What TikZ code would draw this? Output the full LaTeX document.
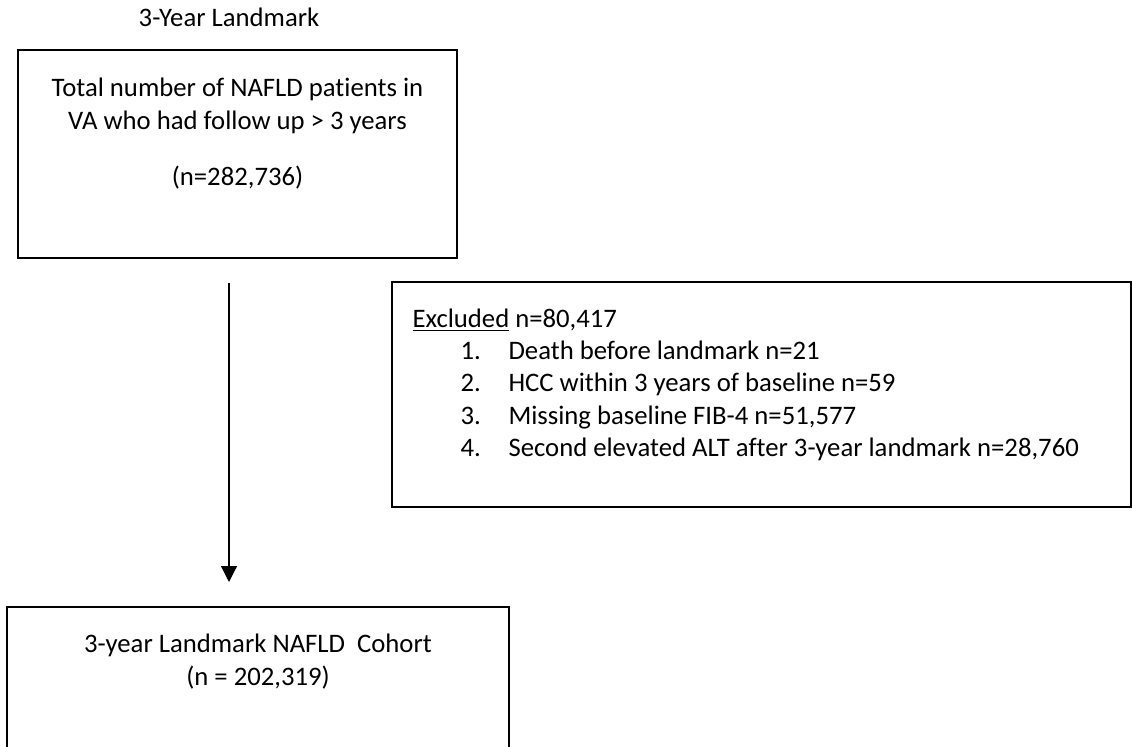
\documentclass[tikz,border=0pt]{standalone}
\usepackage{fontspec}
\setmainfont[Ligatures=NoCommon]{Carlito}
\usepackage{tikz}
\usetikzlibrary{arrows.meta, positioning}

\begin{document}
\begin{tikzpicture}[
    txt/.style={font=\fontsize{11}{13.4}\selectfont, inner sep=0pt},
    box/.style={draw, line width=0.7pt, inner sep=0pt}
]
    % Frame of the page
    \path[use as bounding box, clip] (0, 0) rectangle (16.391, 10.802);

    % Title
    \node[txt, anchor=base] (title) at (3.316, 10.416) {3-Year Landmark};

    % Starting population
    \node[box, minimum width=6.357cm, minimum height=3.012cm] (total) at (3.439, 8.572) {};
    \node[txt, anchor=base] (totalA) at (3.439, 9.398) {Total number of NAFLD patients in};
    \node[txt, anchor=base] (totalB) at (3.439, 8.920) {VA who had follow up > 3 years};
    \node[txt, anchor=base] (totalN) at (3.439, 8.123) {(n=282,736)};

    % Exclusions
    \node[box, minimum width=10.701cm, minimum height=3.258cm] (excl) at (11.027, 5.090) {};
    \node[txt, anchor=base west] (exclHead) at (5.966, 6.067) {\underline{Excluded} n=80,417};
    \node[txt, anchor=base west] (excl1) at (6.661, 5.596) {\makebox[19.8pt][l]{1.}Death before landmark n=21};
    \node[txt, anchor=base west] (excl2) at (6.661, 5.126) {\makebox[19.8pt][l]{2.}HCC within 3 years of baseline n=59};
    \node[txt, anchor=base west] (excl3) at (6.661, 4.655) {\makebox[19.8pt][l]{3.}Missing baseline FIB-4 n=51,577};
    \node[txt, anchor=base west] (excl4) at (6.661, 4.185) {\makebox[19.8pt][l]{4.}Second elevated ALT after 3-year landmark n=28,760};

    % Final cohort
    \node[box, minimum width=7.269cm, minimum height=2.650cm] (cohort) at (3.736, 0.688) {};
    \node[txt, anchor=base] (cohortA) at (3.736, 1.347) {3-year Landmark NAFLD\ \ Cohort};
    \node[txt, anchor=base] (cohortN) at (3.736, 0.883) {(n = 202,319)};

    % Flow arrow
    \coordinate (flowTop) at (3.316, 6.704);
    \coordinate (flowEnd) at (3.316, 2.375);
    \draw[line width=0.5pt, -{Triangle[length=6.5pt, width=6.5pt]}] (flowTop) -- (flowEnd);

\end{tikzpicture}
\end{document}
